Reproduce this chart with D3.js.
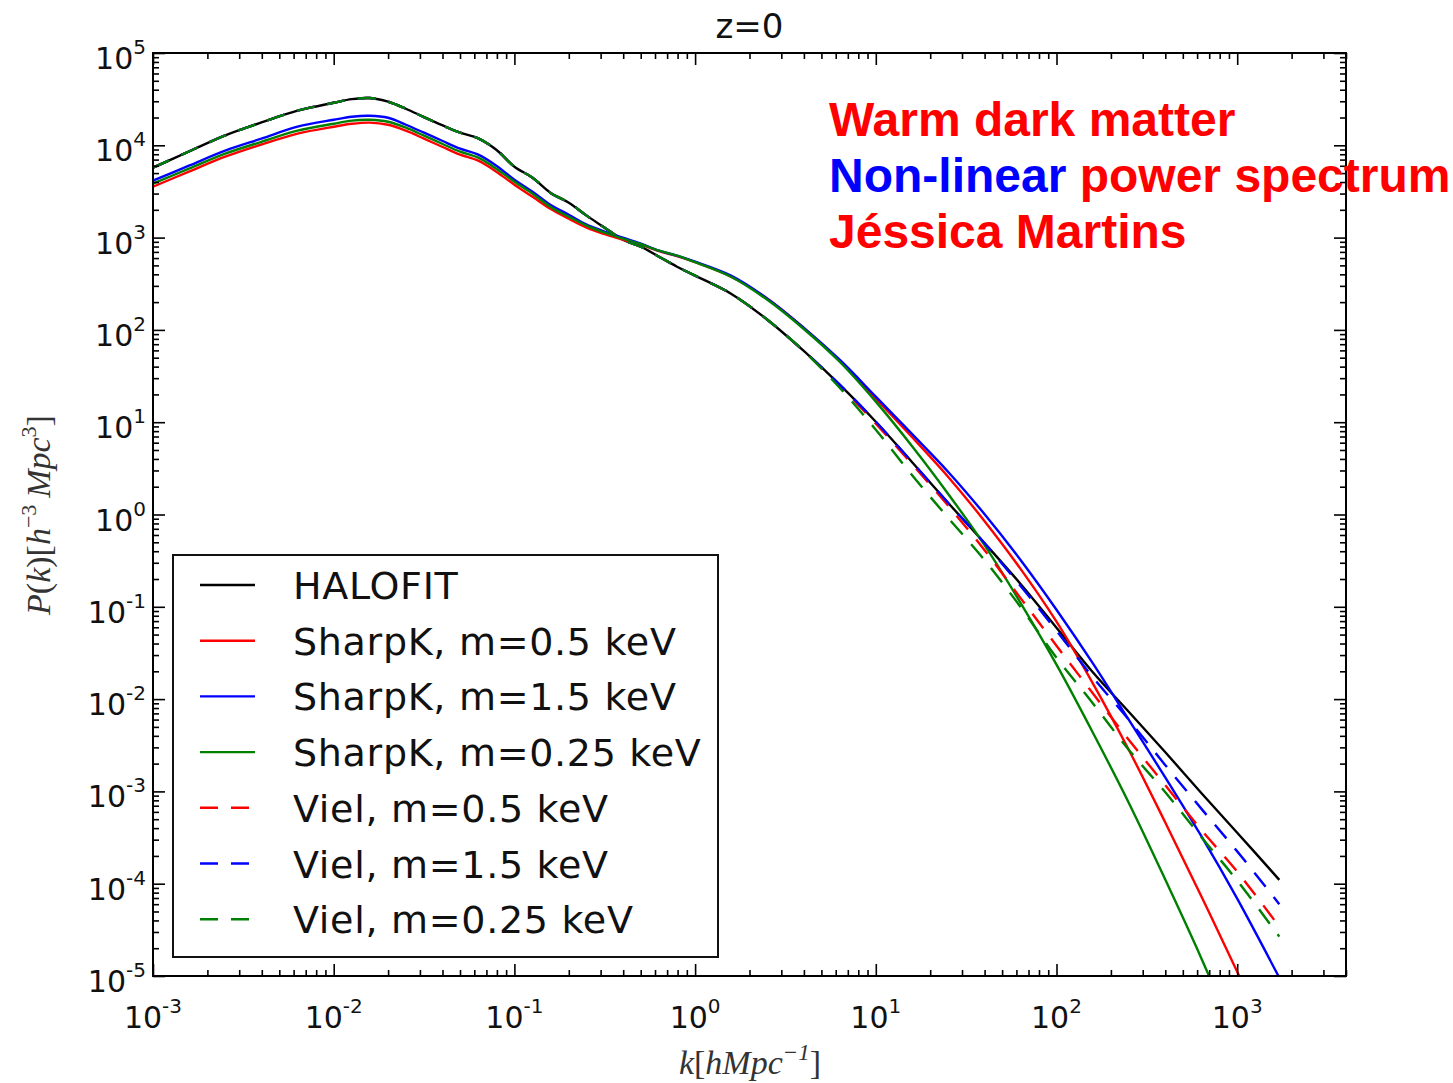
<!DOCTYPE html>
<html>
<head>
<meta charset="utf-8">
<script src="https://cdn.jsdelivr.net/npm/d3@7"></script>
<style>
  body { margin: 0; background: #fff; }
  svg { display: block; }
</style>
</head>
<body>
<svg id="chart" width="1453" height="1083"></svg>
<script>
const kValues = [
  1e-3, 1.58e-3, 2.51e-3, 3.98e-3, 6.31e-3, 1e-2, 1.26e-2, 1.58e-2, 2e-2, 2.51e-2,
  3.16e-2, 3.98e-2, 5.01e-2, 6.31e-2, 7.94e-2, 0.1, 0.126, 0.158, 0.2, 0.251,
  0.316, 0.398, 0.501, 0.631, 0.794, 1, 1.58, 2.51, 3.98, 6.31,
  10, 15.8, 25.1, 39.8, 63.1, 100, 158, 251, 398, 631, 1000, 1710,
];

// P(k) for each model
const halofit = [
  5720, 8570, 12800, 17700, 23700, 28900, 31600, 32500, 29700, 24900,
  20200, 16500, 13700, 11900, 8960, 5860, 4460, 3070, 2390, 1730,
  1280, 949, 797, 621, 484, 387, 247, 129, 59.5, 25.5,
  10.1, 3.73, 1.34, 0.495, 0.178, 0.0594, 0.0198, 7.30e-3, 2.69e-3, 9.68e-4, 3.57e-4, 1.10e-4,
];
const sharpK05 = [
  3560, 5180, 7520, 10200, 13400, 15900, 17100, 17600, 16700, 14400,
  11800, 9650, 7910, 6810, 5180, 3740, 2770, 2050, 1600, 1280,
  1090, 949, 838, 712, 629, 541, 377, 218, 106, 46.4,
  18.0, 6.96, 2.57, 0.857, 0.259, 0.0690, 0.0151, 2.83e-3, 4.69e-4, 7.41e-5, 1.11e-5, 1.24e-6,
];
const sharpK15 = [
  4140, 6010, 8740, 11800, 15900, 18900, 20400, 20900, 19900, 16700,
  13700, 11200, 9190, 7910, 6010, 4240, 3140, 2270, 1770, 1380,
  1160, 998, 859, 721, 637, 548, 387, 218, 106, 47.5,
  18.9, 7.51, 2.91, 1.02, 0.324, 0.0930, 0.0248, 5.98e-3, 1.44e-3, 3.31e-4, 6.88e-5, 9.58e-6,
];
const sharpK025 = [
  3840, 5580, 8110, 10900, 14400, 17100, 18500, 18900, 18000, 15500,
  12700, 10400, 8520, 7340, 5580, 4030, 2990, 2160, 1680, 1350,
  1130, 973, 848, 721, 637, 541, 377, 212, 103, 45.2,
  16.7, 5.56, 1.68, 0.471, 0.111, 0.0236, 4.43e-3, 7.54e-4, 1.13e-4, 1.58e-5, 1.94e-6, 1.68e-7,
];
const viel05 = [
  5720, 8570, 12800, 17700, 23700, 28900, 31600, 32500, 29700, 24900,
  20200, 16500, 13700, 11900, 8960, 5860, 4460, 3070, 2390, 1730,
  1280, 949, 797, 621, 484, 387, 247, 129, 59.5, 24.9,
  9.63, 3.55, 1.25, 0.416, 0.125, 0.0379, 0.0117, 3.63e-3, 1.18e-3, 3.85e-4, 1.35e-4, 3.42e-5,
];
const viel15 = [
  5720, 8570, 12800, 17700, 23700, 28900, 31600, 32500, 29700, 24900,
  20200, 16500, 13700, 11900, 8960, 5860, 4460, 3070, 2390, 1730,
  1280, 949, 797, 621, 484, 387, 247, 129, 59.5, 25.5,
  10.1, 3.73, 1.34, 0.495, 0.169, 0.0551, 0.0175, 5.98e-3, 1.95e-3, 6.55e-4, 2.24e-4, 6.0e-5,
];
const viel025 = [
  5720, 8570, 12800, 17700, 23700, 28900, 31600, 32500, 29700, 24900,
  20200, 16500, 13700, 11900, 8960, 5860, 4460, 3070, 2390, 1730,
  1280, 949, 797, 621, 484, 387, 247, 129, 59.5, 23.6,
  8.29, 2.70, 0.923, 0.324, 0.100, 0.0281, 9.14e-3, 2.83e-3, 9.92e-4, 3.23e-4, 1.08e-4, 2.67e-5,
];

const seriesNames = [
  'HALOFIT',
  'SharpK, m=0.5 keV',
  'SharpK, m=1.5 keV',
  'SharpK, m=0.25 keV',
  'Viel, m=0.5 keV',
  'Viel, m=1.5 keV',
  'Viel, m=0.25 keV',
];
const seriesValues = [halofit, sharpK05, sharpK15, sharpK025, viel05, viel15, viel025];
const seriesColors = ['#000000', '#ff0000', '#0000ff', '#008000', '#ff0000', '#0000ff', '#008000'];
const seriesDashed = [false, false, false, false, true, true, true];

const xTickExps = [-3, -2, -1, 0, 1, 2, 3];
const yTickExps = [5, 4, 3, 2, 1, 0, -1, -2, -3, -4, -5];

const plot = { left: 153, top: 53, right: 1346, bottom: 976 };
const dash = '18,13';

const svg = d3.select('#chart');

const x = d3.scaleLog().domain([1e-3, 4e3]).range([plot.left, plot.right]);
const y = d3.scaleLog().domain([1e-5, 1e5]).range([plot.bottom, plot.top]);

const majorX = xTickExps.map((e) => 10 ** e);
const majorY = yTickExps.map((e) => 10 ** e);
const minorTicks = (scale, majors) => {
  const [lo, hi] = scale.domain();
  const out = [];
  majors.forEach((m) => {
    for (let j = 2; j <= 9; j += 1) {
      const v = m * j;
      if (v > lo && v < hi * 1.0001) out.push(v);
    }
  });
  return out;
};
const minorX = minorTicks(x, majorX);
const minorY = minorTicks(y, majorY);

// clip
svg.append('defs')
  .append('clipPath')
  .attr('id', 'plot-clip')
  .append('rect')
  .attr('x', plot.left)
  .attr('y', plot.top)
  .attr('width', plot.right - plot.left)
  .attr('height', plot.bottom - plot.top);

// curves
const line = d3.line()
  .x((d) => x(d.k))
  .y((d) => y(d.p))
  .curve(d3.curveCatmullRom.alpha(0.5));

const series = seriesNames.map((name, i) => ({
  name,
  color: seriesColors[i],
  dashed: seriesDashed[i],
  points: kValues.map((k, j) => ({ k, p: seriesValues[i][j] })),
}));

svg.append('g')
  .attr('clip-path', 'url(#plot-clip)')
  .selectAll('path')
  .data(series)
  .enter()
  .append('path')
  .attr('d', (d) => line(d.points))
  .attr('fill', 'none')
  .attr('stroke', (d) => d.color)
  .attr('stroke-width', 2.4)
  .attr('stroke-dasharray', (d) => (d.dashed ? dash : null));

// ticks, inward on all four sides
const addTicks = (axisFn, scale, values, size, transform) => {
  const g = svg.append('g')
    .attr('transform', transform)
    .call(axisFn(scale).tickValues(values).tickSize(-size).tickFormat(''));
  g.select('.domain').remove();
  g.selectAll('.tick line').attr('stroke', '#000').attr('stroke-width', 1.6);
};
[[majorX, 12], [minorX, 6]].forEach(([vals, size]) => {
  addTicks(d3.axisBottom, x, vals, size, `translate(0,${plot.bottom})`);
  addTicks(d3.axisTop, x, vals, size, `translate(0,${plot.top})`);
});
[[majorY, 12], [minorY, 6]].forEach(([vals, size]) => {
  addTicks(d3.axisLeft, y, vals, size, `translate(${plot.left},0)`);
  addTicks(d3.axisRight, y, vals, size, `translate(${plot.right},0)`);
});

// frame
svg.append('rect')
  .attr('x', plot.left)
  .attr('y', plot.top)
  .attr('width', plot.right - plot.left)
  .attr('height', plot.bottom - plot.top)
  .attr('fill', 'none')
  .attr('stroke', '#000')
  .attr('stroke-width', 2);

// tick labels 10^n
const powerLabel = (sel) => {
  sel.append('tspan').text('10');
  sel.append('tspan')
    .attr('dy', -15)
    .attr('font-size', 20)
    .text((e) => String(e));
};

svg.append('g')
  .attr('font-family', 'DejaVu Sans, sans-serif')
  .attr('font-size', 30)
  .attr('fill', '#111')
  .selectAll('text')
  .data(xTickExps)
  .enter()
  .append('text')
  .attr('x', (e) => x(10 ** e))
  .attr('y', 1028)
  .attr('text-anchor', 'middle')
  .call(powerLabel);

svg.append('g')
  .attr('font-family', 'DejaVu Sans, sans-serif')
  .attr('font-size', 30)
  .attr('fill', '#111')
  .selectAll('text')
  .data(yTickExps)
  .enter()
  .append('text')
  .attr('x', 146)
  .attr('y', (e) => y(10 ** e) + 16)
  .attr('text-anchor', 'end')
  .call(powerLabel);

// title
svg.append('text')
  .attr('x', (plot.left + plot.right) / 2)
  .attr('y', 38)
  .attr('text-anchor', 'middle')
  .attr('font-family', 'DejaVu Sans, sans-serif')
  .attr('font-size', 34)
  .attr('fill', '#111')
  .text('z=0');

// axis labels
const xLabel = svg.append('text')
  .attr('x', 750)
  .attr('y', 1074)
  .attr('text-anchor', 'middle')
  .attr('font-family', 'Liberation Serif, serif')
  .attr('font-size', 34)
  .attr('fill', '#333');
xLabel.append('tspan').attr('font-style', 'italic').text('k');
xLabel.append('tspan').text('[');
xLabel.append('tspan').attr('font-style', 'italic').text('hMpc');
xLabel.append('tspan').attr('dy', -14).attr('font-size', 23).attr('font-style', 'italic').text('\u22121');
xLabel.append('tspan').attr('dy', 14).text(']');

const yLabel = svg.append('text')
  .attr('transform', 'translate(50,515) rotate(-90)')
  .attr('text-anchor', 'middle')
  .attr('font-family', 'Liberation Serif, serif')
  .attr('font-size', 34)
  .attr('fill', '#333');
yLabel.append('tspan').attr('font-style', 'italic').text('P');
yLabel.append('tspan').text('(');
yLabel.append('tspan').attr('font-style', 'italic').text('k');
yLabel.append('tspan').text(')[');
yLabel.append('tspan').attr('font-style', 'italic').text('h');
yLabel.append('tspan').attr('dy', -14).attr('font-size', 22).text('\u22123');
yLabel.append('tspan').attr('dy', 14).attr('font-style', 'italic').text('\u2009Mpc');
yLabel.append('tspan').attr('dy', -14).attr('font-size', 22).text('3');
yLabel.append('tspan').attr('dy', 14).text(']');

// legend
const legend = svg.append('g');
legend.append('rect')
  .attr('x', 173)
  .attr('y', 555)
  .attr('width', 545)
  .attr('height', 402)
  .attr('fill', '#fff')
  .attr('stroke', '#111')
  .attr('stroke-width', 2);

const rows = legend.selectAll('g.row')
  .data(series)
  .enter()
  .append('g')
  .attr('class', 'row')
  .attr('transform', (d, i) => `translate(0,${585 + i * 55.7})`);

rows.append('line')
  .attr('x1', 200)
  .attr('x2', 255)
  .attr('stroke', (d) => d.color)
  .attr('stroke-width', 2.4)
  .attr('stroke-dasharray', (d) => (d.dashed ? dash : null));

rows.append('text')
  .attr('x', 293)
  .attr('y', 14)
  .attr('font-family', 'DejaVu Sans, sans-serif')
  .attr('font-size', 38)
  .attr('letter-spacing', 0.7)
  .attr('fill', '#111')
  .text((d) => d.name);

// annotation
const note = svg.append('g')
  .attr('font-family', 'Liberation Sans, Arial, sans-serif')
  .attr('font-weight', 'bold')
  .attr('font-size', 48);
note.append('text').attr('x', 829).attr('y', 136).attr('fill', '#ff0000').text('Warm dark matter');
const note2 = note.append('text').attr('x', 829).attr('y', 192);
note2.append('tspan').attr('fill', '#0000ff').text('Non-linear');
note2.append('tspan').attr('fill', '#ff0000').text(' power spectrum');
note.append('text').attr('x', 829).attr('y', 248).attr('fill', '#ff0000').text('Jéssica Martins');
</script>
</body>
</html>
